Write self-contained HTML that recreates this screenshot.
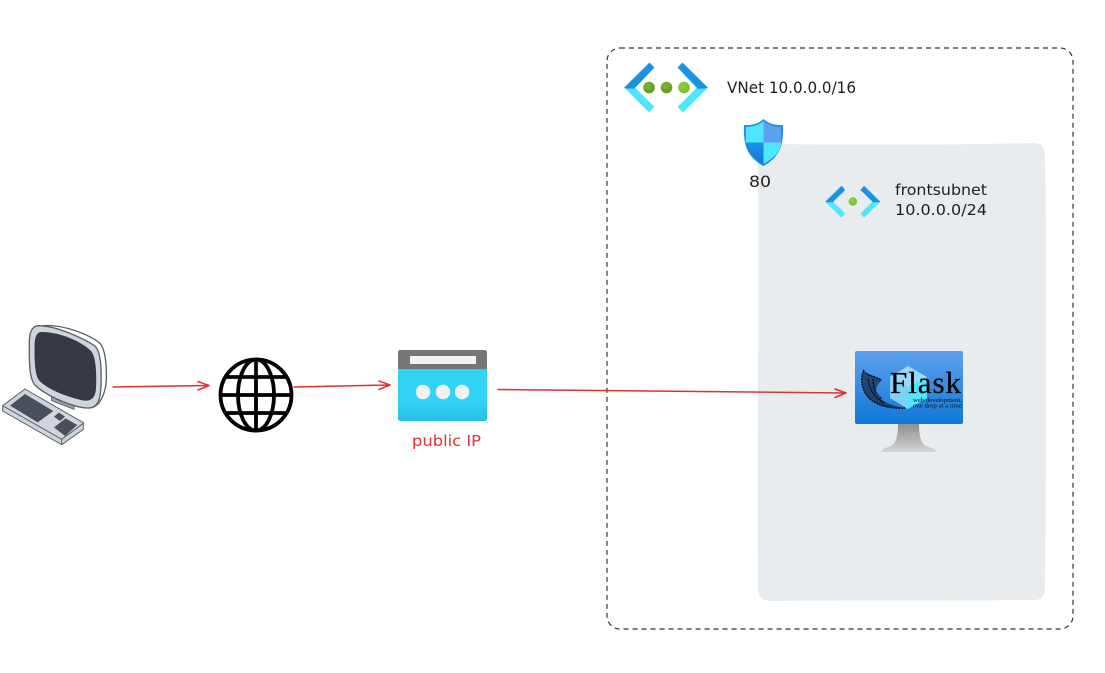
<!DOCTYPE html>
<html lang="en">
<head>
<meta charset="utf-8">
<title>VNet diagram</title>
<style>
html,body{margin:0;padding:0;background:#fff;width:1105px;height:673px;overflow:hidden}
svg{display:block}
text{font-family:"DejaVu Sans","Liberation Sans",sans-serif}
</style>
</head>
<body>
<svg width="1105" height="673" viewBox="0 0 1105 673" xmlns="http://www.w3.org/2000/svg">
<defs>
<linearGradient id="mon" x1="0" y1="0" x2="0" y2="1"><stop offset="0" stop-color="#5ea0ef"/><stop offset="1" stop-color="#0f78d6"/></linearGradient>
<linearGradient id="stand" x1="0" y1="0" x2="0" y2="1"><stop offset="0" stop-color="#8f8f8f"/><stop offset="1" stop-color="#d4d4d4"/></linearGradient>
<linearGradient id="ip" x1="0" y1="0" x2="0" y2="1"><stop offset="0" stop-color="#32d4f5"/><stop offset=".7" stop-color="#32d4f5"/><stop offset="1" stop-color="#27bfe3"/></linearGradient>
<radialGradient id="g1" cx=".4" cy=".35" r=".7"><stop offset="0" stop-color="#7fba2f"/><stop offset="1" stop-color="#5e9624"/></radialGradient>
<radialGradient id="g2" cx=".4" cy=".35" r=".7"><stop offset="0" stop-color="#8fd23a"/><stop offset="1" stop-color="#76bc2d"/></radialGradient>
<linearGradient id="sh" x1="0" y1="0" x2="0" y2="1"><stop offset="0" stop-color="#1b93eb"/><stop offset="1" stop-color="#0f78d6"/></linearGradient>
</defs>

<!-- subnet area -->
<path d="M770 144 C860 145 950 145 1034 143 Q1045 143 1045 155 C1047 290 1046 450 1045 589 Q1045 600 1034 600 C940 601 860 600 770 601 Q758 600 758 589 C757 450 759 300 758 156 Q758 144 770 144Z" fill="#e9ecef"/>

<!-- vnet dashed boundary -->
<rect x="607" y="48" width="466" height="581" rx="13" ry="13" fill="none" stroke="#333" stroke-width="1.200" stroke-dasharray="5 4"/>

<!-- vnet icon -->
<g stroke-width="1.400" stroke-linejoin="round">
<polygon points="625.500,88 634,87.500 653.500,107 649,111.500" fill="#50e6ff" stroke="#50e6ff"/>
<polygon points="706.500,88 698,87.500 678.500,107 683,111.500" fill="#50e6ff" stroke="#50e6ff"/>
<polygon points="625,87.700 649.500,63.500 653.500,67.500 634,88" fill="#1b93e2" stroke="#1b93e2"/>
<polygon points="707,87.700 682.500,63.500 678.500,67.500 698,88" fill="#1b93e2" stroke="#1b93e2"/>
</g>
<circle cx="649" cy="87.500" r="5.800" fill="url(#g1)"/>
<circle cx="666.500" cy="87.500" r="5.800" fill="url(#g1)"/>
<circle cx="684" cy="87.500" r="5.800" fill="url(#g2)"/>
<text x="727" y="93" font-size="16" fill="#1e1e1e" textLength="129" lengthAdjust="spacingAndGlyphs">VNet 10.0.0.0/16</text>

<!-- shield -->
<path d="M763.500 119 C769 124 776 125.500 783 125 C783.500 142 782 156 763.500 166 C745 156 743.500 142 744 125 C751 125.500 758 124 763.500 119Z" fill="#1b8ee6"/>
<path d="M763.500 121 C758 125.500 752 127 745.800 127 L745.800 142.500 L763.500 142.500Z" fill="#50e6ff"/>
<path d="M763.500 121 C769 125.500 775 127 781.200 127 L781.200 142.500 L763.500 142.500Z" fill="#5ea0ef"/>
<path d="M745.800 142.500 L763.500 142.500 L763.500 164 C750 156 746.500 150 745.800 142.500Z" fill="url(#sh)"/>
<path d="M781.200 142.500 L763.500 142.500 L763.500 164 C777 156 780.500 150 781.200 142.500Z" fill="#50e6ff"/>
<text x="749" y="187" font-size="16" fill="#1e1e1e" textLength="22" lengthAdjust="spacingAndGlyphs">80</text>

<!-- subnet icon -->
<g stroke-width="1" stroke-linejoin="round">
<polygon points="826,201.700 832.500,201.700 844.500,213.500 841.500,217" fill="#50e6ff" stroke="#50e6ff"/>
<polygon points="879.600,201.700 873.100,201.700 861.100,213.500 864.100,217" fill="#50e6ff" stroke="#50e6ff"/>
<polygon points="826,201.700 841.500,186.500 844.500,190 832.500,201.700" fill="#1b93e2" stroke="#1b93e2"/>
<polygon points="879.600,201.700 864.100,186.500 861.100,190 873.100,201.700" fill="#1b93e2" stroke="#1b93e2"/>
</g>
<circle cx="852.800" cy="201.500" r="4.200" fill="url(#g2)"/>
<text x="895" y="195" font-size="15" fill="#1e1e1e" textLength="92" lengthAdjust="spacingAndGlyphs">frontsubnet</text>
<text x="895" y="215" font-size="15" fill="#1e1e1e" textLength="92" lengthAdjust="spacingAndGlyphs">10.0.0.0/24</text>

<!-- VM monitor -->
<path d="M898 424 L919 424 C919 436 921 443 926 446 C932 448 936 449 936 452 L881 452 C881 449 885 448 891 446 C896 443 898 436 898 424Z" fill="url(#stand)"/>
<rect x="855" y="351" width="108" height="73" rx="2" fill="url(#mon)"/>
<polygon points="908,366 927,377 927,398 908,409 890,398 890,377" fill="#9ad9f7"/>
<polygon points="908,387 927,377 927,398 908,409" fill="#50e6ff"/>
<polygon points="908,387 890,377 890,398 908,409" fill="#7fd0f5"/>
<!-- flask horn -->
<path d="M864 370 C860 378 861 390 870 399 C878 406 892 409 905 408 C895 407 885 403 878 397 C873 391 877 385 882 380 C876 376 870 375 866 373Z" fill="#0b0b14" fill-opacity=".55"/>
<path d="M864 370 C860 378 861 390 870 399 C878 406 892 409 905 408 M866 373 C869 376 876 377 881 380 M868 379 C869 388 873 396 884 403 M873 379 C873 386 875 394 882 399" fill="none" stroke="#0b0b14" stroke-width="1.400" stroke-dasharray="2 .8"/>
<text x="890" y="393" style="font-family:'Liberation Serif',serif" font-size="31" fill="#000" stroke="#000" stroke-width=".3" textLength="71" lengthAdjust="spacing">Flask</text>
<text x="913" y="402" style="font-family:'Liberation Serif',serif" font-size="6" fill="#111" textLength="49" lengthAdjust="spacingAndGlyphs">web development,</text>
<text x="913" y="407.500" style="font-family:'Liberation Serif',serif" font-size="6" fill="#111" textLength="49" lengthAdjust="spacingAndGlyphs">one drop at a time</text>

<!-- public IP -->
<rect x="398" y="350" width="89" height="71" rx="2.500" fill="url(#ip)"/>
<path d="M398 369 L398 352.500 Q398 350 400.500 350 L484.500 350 Q487 350 487 352.500 L487 369Z" fill="#767676"/>
<rect x="410" y="356" width="66" height="8" rx="1" fill="#f2f2f2"/>
<circle cx="423" cy="392" r="7.200" fill="#f2f2f2"/>
<circle cx="443" cy="392" r="7.200" fill="#f2f2f2"/>
<circle cx="462" cy="392" r="7.200" fill="#f2f2f2"/>
<text x="412" y="446" font-size="15" fill="#e03131" textLength="69" lengthAdjust="spacingAndGlyphs">public IP</text>

<!-- globe -->
<g fill="none" stroke="#000" stroke-width="3.800">
<circle cx="256" cy="395" r="35.500"/>
<ellipse cx="256" cy="395" rx="18" ry="35.500"/>
<path d="M256 359.500 V430.500 M220.500 395 H291.500 M225 377 H287 M225 413 H287"/>
</g>

<!-- arrows -->
<g fill="none" stroke="#e03131" stroke-width="1.500" stroke-linecap="round" stroke-linejoin="round">
<path d="M113 387 L209 385.500 M198 381.500 L209 385.500 L198 390"/>
<path d="M294 387 L390 385 M379 381 L390 385 L379 389.500"/>
<path d="M498 389.500 L846 393 M835 389 L846 393 L835 397.500"/>
</g>

<!-- computer, drawn in 3x crop coordinates -->
<g transform="translate(0 310) scale(.33333)" stroke-linejoin="round">
<path d="M130 47 C190 42 270 75 300 100 C316 118 320 165 319 205 C318 250 300 290 270 294 L160 262 Z" fill="#fff" stroke="#5a6068" stroke-width="4"/>
<path d="M155 255 L222 283 L222 298 L155 272Z" fill="#9ea3ac" stroke="#5a6068" stroke-width="3"/>
<path d="M115 47 C170 47 250 85 285 108 C302 125 305 175 303 225 C302 265 295 296 262 294 C215 292 135 255 105 225 C85 205 88 130 88 95 C88 65 98 47 115 47Z" fill="#d0d4dd" stroke="#5a6068" stroke-width="4"/>
<path d="M125 66 C180 66 245 95 272 122 C288 138 290 190 288 235 C286 265 272 275 248 271 C205 262 145 240 118 212 C102 195 103 130 104 98 C105 78 112 66 125 66Z" fill="#363a43"/>
<path d="M8 287 L75 237 L250 338 L250 358 L185 404 L8 303Z" fill="#d0d4dd" stroke="#5a6068" stroke-width="3"/>
<path d="M8 287 L185 388 L250 340 M185 388 L185 404" fill="none" stroke="#5a6068" stroke-width="3"/>
<path d="M30 287 L75 252 L160 303 L113 337Z" fill="#4a5059"/>
<path d="M162 320 L177 308 L195 320 L180 333Z" fill="#4a5059"/>
<path d="M162 352 L197 325 L232 345 L195 378Z" fill="#4a5059"/>
</g>
</svg>
</body>
</html>
